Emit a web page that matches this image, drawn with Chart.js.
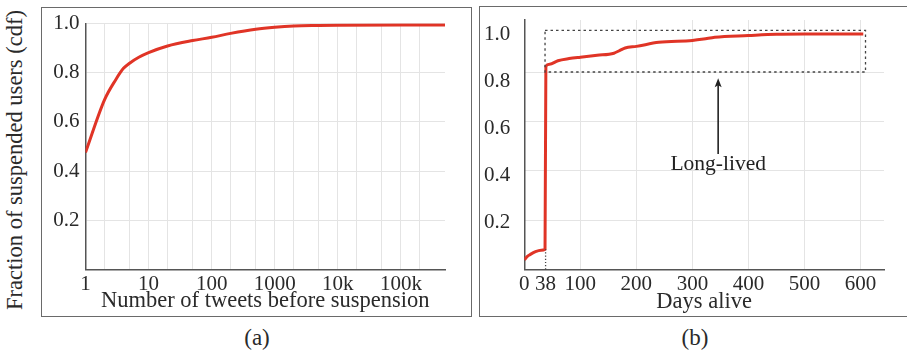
<!DOCTYPE html>
<html>
<head>
<meta charset="utf-8">
<script src="https://cdn.jsdelivr.net/npm/chart.js@4"></script>
<style>
  body { margin: 0; background: #fff; width: 907px; height: 353px; position: relative; overflow: hidden;
         font-family: "Liberation Serif", "DejaVu Serif", serif; color: #2a2a2a; }
  .box { position: absolute; border: 1.5px solid #6a6a6a; box-sizing: border-box; }
  .cap { position: absolute; font-size: 23px; transform: translateX(-50%); }
  #ytitle { position: absolute; left: 15px; top: 160px; font-size: 22.5px; white-space: nowrap;
            transform: translate(-50%, -50%) rotate(-90deg); }
</style>
</head>
<body>
<div class="box" style="left:41px; top:7px; width:431px; height:310px;"></div>
<div class="box" style="left:479px; top:6px; width:440px; height:311px;"></div>
<div style="position:absolute; left:42px; top:8px; width:428px; height:307px;"><canvas id="tweets"></canvas></div>
<div style="position:absolute; left:480px; top:8px; width:427px; height:308px;"><canvas id="days"></canvas></div>
<div id="ytitle">Fraction of suspended users (cdf)</div>
<div class="cap" style="left:257px; top:325px;">(a)</div>
<div class="cap" style="left:695px; top:325px;">(b)</div>
<script>
// (a) number of tweets before suspension, cdf
var tweetCounts = [1, 2, 3, 4, 5, 7, 10, 20, 50, 100, 200, 500, 1000, 2000, 5000, 10000, 100000, 500000];
var tweetCdf = [0.475, 0.689, 0.770, 0.817, 0.838, 0.862, 0.881, 0.908, 0.930, 0.943, 0.959, 0.976, 0.984, 0.989, 0.991, 0.992, 0.993, 0.993];
var logTicks = [1, 2, 5, 10, 20, 50, 100, 200, 500, 1000, 2000, 5000, 10000, 20000, 50000, 100000, 200000, 500000];
var logLabels = {1: '1', 10: '10', 100: '100', 1000: '1000', 10000: '10k', 100000: '100k'};

// (b) days alive, cdf
var daysAlive = [0, 5, 10, 20, 30, 37, 38.5, 45, 60, 80, 100, 130, 160, 170, 180, 200, 240, 300, 320, 340, 400, 450, 500, 605];
var daysCdf = [0.041, 0.055, 0.063, 0.076, 0.082, 0.086, 0.863, 0.872, 0.887, 0.896, 0.902, 0.910, 0.919, 0.930, 0.941, 0.948, 0.965, 0.973, 0.979, 0.987, 0.994, 0.999, 1.0, 1.0];
var dayTicks = [0, 38, 100, 200, 300, 400, 500, 600];
var cdfTicks = [0.2, 0.4, 0.6, 0.8, 1.0];

var RED = '#e03426';
var GRID = '#e4e4e4';
var AXIS = '#555';
var FAMILY = '"Liberation Serif", "DejaVu Serif", serif';
var FONT = { family: FAMILY, size: 21 };
var TFONT = { family: FAMILY, size: 22.5 };

Chart.defaults.color = '#2a2a2a';

// keep the plot area where layout.padding puts it
function noPad(s) { s.paddingTop = 0; s.paddingBottom = 0; }

new Chart(document.getElementById('tweets'), {
  type: 'line',
  data: {
    datasets: [{
      data: tweetCounts.map(function (x, i) { return { x: x, y: tweetCdf[i] }; }),
      borderColor: RED, borderWidth: 3, pointRadius: 0, cubicInterpolationMode: 'monotone', fill: false
    }]
  },
  options: {
    responsive: true, maintainAspectRatio: false, animation: false,
    layout: { padding: { left: 0, top: 15.3, right: 25, bottom: 0 } },
    plugins: { legend: { display: false }, tooltip: { enabled: false } },
    scales: {
      x: {
        type: 'logarithmic', min: 1, max: 500000,
        afterBuildTicks: function (s) { s.ticks = logTicks.map(function (v) { return { value: v }; }); },
        afterFit: function (s) { s.height = 45.5; },
        ticks: { autoSkip: false, maxRotation: 0, padding: 2, font: FONT,
                 callback: function (v) { return logLabels[v] || ''; } },
        grid: { drawTicks: false, color: function (c) { return c.tick && (c.tick.value === 1 || c.tick.value === 500000) ? 'rgba(0,0,0,0)' : GRID; } },
        border: { color: AXIS, width: 1.5 },
        title: { display: true, text: 'Number of tweets before suspension', font: TFONT, padding: { top: -4, bottom: 0 } }
      },
      y: {
        min: 0, max: 1.0,
        afterBuildTicks: function (s) { s.ticks = cdfTicks.map(function (v) { return { value: v }; }); },
        afterFit: function (s) { s.width = 43.5; noPad(s); },
        ticks: { padding: 6, font: FONT, callback: function (v) { return v.toFixed(1); } },
        grid: { drawTicks: false, color: GRID },
        border: { color: AXIS, width: 1.5 }
      }
    }
  }
});

// dotted box, arrow and label for the long-lived users
var longLived = {
  id: 'longLived',
  afterDatasetsDraw: function (chart) {
    var ctx = chart.ctx, x = chart.scales.x, y = chart.scales.y;
    ctx.save();
    ctx.strokeStyle = '#444';
    ctx.lineWidth = 1.3;
    ctx.setLineDash([2.5, 3]);
    ctx.strokeRect(x.getPixelForValue(37), y.getPixelForValue(1.016),
                   x.getPixelForValue(609) - x.getPixelForValue(37),
                   y.getPixelForValue(0.839) - y.getPixelForValue(1.016));
    ctx.setLineDash([1.2, 2]);
    ctx.beginPath();
    ctx.moveTo(x.getPixelForValue(38), y.getPixelForValue(0));
    ctx.lineTo(x.getPixelForValue(38), y.getPixelForValue(0.086));
    ctx.stroke();
    ctx.setLineDash([]);
    var ax = x.getPixelForValue(346), top = y.getPixelForValue(0.812), bot = y.getPixelForValue(0.491);
    ctx.strokeStyle = '#222';
    ctx.lineWidth = 1.6;
    ctx.beginPath();
    ctx.moveTo(ax, bot);
    ctx.lineTo(ax, top + 4);
    ctx.stroke();
    ctx.fillStyle = '#222';
    ctx.beginPath();
    ctx.moveTo(ax, top);
    ctx.lineTo(ax - 3.5, top + 9);
    ctx.lineTo(ax, top + 7);
    ctx.lineTo(ax + 3.5, top + 9);
    ctx.closePath();
    ctx.fill();
    ctx.font = '21.5px ' + FAMILY;
    ctx.textAlign = 'center';
    ctx.textBaseline = 'middle';
    ctx.fillText('Long-lived', ax, y.getPixelForValue(0.445));
    ctx.restore();
  }
};

new Chart(document.getElementById('days'), {
  type: 'line',
  data: {
    datasets: [{
      data: daysAlive.map(function (x, i) { return { x: x, y: daysCdf[i] }; }),
      borderColor: RED, borderWidth: 3, pointRadius: 0, cubicInterpolationMode: 'monotone', fill: false
    }]
  },
  options: {
    responsive: true, maintainAspectRatio: false, animation: false,
    layout: { padding: { left: 0, top: 12, right: 23, bottom: 0 } },
    plugins: { legend: { display: false }, tooltip: { enabled: false } },
    scales: {
      x: {
        type: 'linear', min: 0, max: 642,
        afterBuildTicks: function (s) { s.ticks = dayTicks.map(function (v) { return { value: v }; }); },
        afterFit: function (s) { s.height = 46.5; },
        ticks: { autoSkip: false, maxRotation: 0, padding: 2, font: FONT },
        grid: { drawTicks: false, color: function (c) { return c.tick && c.tick.value >= 100 ? GRID : 'rgba(0,0,0,0)'; } },
        border: { color: AXIS, width: 1.5 },
        title: { display: true, text: 'Days alive', font: TFONT, padding: { top: -4, bottom: 0 } }
      },
      y: {
        min: 0, max: 1.06,
        afterBuildTicks: function (s) { s.ticks = cdfTicks.map(function (v) { return { value: v }; }); },
        afterFit: function (s) { s.width = 44.3; noPad(s); },
        ticks: { padding: 6, font: FONT, callback: function (v) { return v.toFixed(1); } },
        grid: { display: false },
        border: { color: AXIS, width: 1.5 }
      },
      yg: {
        position: 'left', min: 0, max: 1.011,
        afterBuildTicks: function (s) { s.ticks = [0.2, 0.4, 0.6, 0.8].map(function (v) { return { value: v }; }); },
        afterFit: function (s) { s.width = 0; noPad(s); },
        ticks: { display: false },
        grid: { drawTicks: false, color: GRID },
        border: { display: false }
      }
    }
  },
  plugins: [longLived]
});
</script>
</body>
</html>
